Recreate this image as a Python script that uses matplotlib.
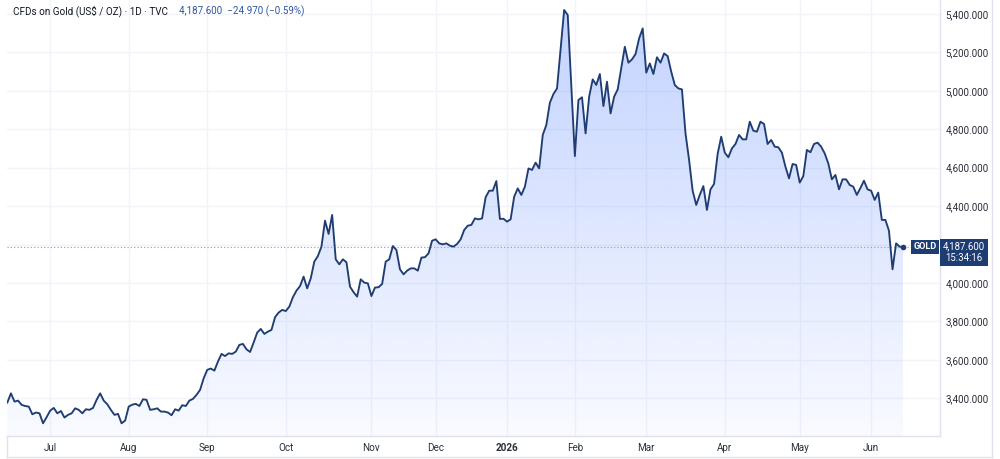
import matplotlib
matplotlib.use("Agg")
import numpy as np
from matplotlib import pyplot as plt
from matplotlib.lines import Line2D

# daily close, one value per trading day
price = [
    3378, 3426, 3383, 3388, 3366, 3360, 3357, 3317, 3326, 3322,
    3270, 3302, 3336, 3350, 3322, 3334, 3300, 3314, 3322, 3348,
    3340, 3322, 3343, 3340, 3350, 3392, 3426, 3388, 3369, 3340,
    3314, 3319, 3270, 3284, 3357, 3367, 3371, 3360, 3395, 3392,
    3340, 3343, 3348, 3331, 3331, 3326, 3312, 3343, 3336, 3364,
    3360, 3388, 3397, 3418, 3444, 3504, 3548, 3555, 3544, 3591,
    3631, 3620, 3634, 3631, 3643, 3678, 3683, 3655, 3641, 3690,
    3742, 3761, 3735, 3747, 3756, 3822, 3846, 3860, 3854, 3877,
    3926, 3960, 3984, 4033, 3972, 4024, 4111, 4140, 4189, 4324,
    4255, 4354, 4123, 4097, 4123, 4108, 3981, 3952, 3929, 4019,
    4002, 3998, 3932, 3976, 3978, 3995, 4111, 4123, 4192, 4172,
    4071, 4045, 4064, 4076, 4076, 4064, 4132, 4134, 4154, 4220,
    4227, 4206, 4201, 4206, 4194, 4189, 4203, 4227, 4276, 4298,
    4302, 4336, 4331, 4336, 4446, 4480, 4480, 4530, 4333, 4334,
    4319, 4331, 4449, 4492, 4458, 4501, 4596, 4588, 4626, 4596,
    4770, 4822, 4938, 4983, 5012, 5217, 5420, 5394, 5030, 4660,
    4952, 4966, 4778, 4969, 5059, 5030, 5087, 4920, 5047, 4882,
    4969, 5007, 5118, 5229, 5146, 5163, 5191, 5272, 5324, 5094,
    5142, 5087, 5174, 5146, 5194, 5180, 5099, 5030, 5012, 5007,
    4778, 4640, 4480, 4406, 4458, 4504, 4380, 4487, 4515, 4671,
    4761, 4678, 4654, 4700, 4723, 4770, 4747, 4747, 4839, 4792,
    4787, 4839, 4827, 4723, 4744, 4709, 4706, 4678, 4605, 4544,
    4619, 4614, 4522, 4556, 4692, 4680, 4723, 4730, 4709, 4674,
    4622, 4539, 4562, 4487, 4539, 4539, 4510, 4501, 4458, 4494,
    4532, 4487, 4480, 4432, 4470, 4328, 4328, 4272, 4071, 4206,
    4189, 4187.6,
]

# trading-day index where each month starts
month_pos = [12, 34, 56, 78, 102, 120, 140, 159, 179, 201, 222, 242]
month_labels = ["Jul", "Aug", "Sep", "Oct", "Nov", "Dec", "2026",
                "Feb", "Mar", "Apr", "May", "Jun"]
price_ticks = [3400, 3600, 3800, 4000, 4200, 4400, 4600, 4800, 5000, 5200, 5400]

symbol = "GOLD"
title = "CFDs on Gold (US$ / OZ) \u00b7 1D \u00b7 TVC"
last_price = 4187.600
change = -24.970
change_pct = -0.59
clock = "15:34:16"

LINE = "#1f3d72"
NAVY = "#1c3c72"
BORDER = "#e0e3eb"
GRID = "#f2f4fa"
TEXT = "#2a2e39"

plt.rcParams["font.family"] = ["Roboto", "DejaVu Sans"]

W, H = 1000, 459
fig = plt.figure(figsize=(W / 100, H / 100), dpi=100)
ax = fig.add_axes([7 / W, 23 / H, 933 / W, 436 / H])

days = np.arange(len(price))
values = np.array(price, dtype=float)
y_lo, y_hi = 3204, 5472

# area under the line with a vertical gradient
poly = ax.fill_between(days, values, y_lo, facecolor="none", edgecolor="none")
grad = np.zeros((256, 1, 4))
grad[:, 0, 0] = 41 / 255
grad[:, 0, 1] = 98 / 255
grad[:, 0, 2] = 1.0
grad[:, 0, 3] = np.linspace(0.28, 0.03, 256)
im = ax.imshow(grad, extent=[days[0], days[-1], y_lo, values.max()],
               aspect="auto", origin="upper", zorder=1, interpolation="bilinear")
im.set_clip_path(poly.get_paths()[0], transform=ax.transData)
ax.set_xlim(-0.1, 261.3)
ax.set_ylim(y_lo, y_hi)

ax.plot(days, values, color=LINE, lw=1.35, zorder=3, solid_joinstyle="round")
ax.plot(days[-1], values[-1], "o", ms=3.0, color=LINE, zorder=4)
ax.axhline(last_price, color="#8a9bc0", lw=0.8, ls=(0, (1, 2)), zorder=2)

# axes styling
ax.yaxis.tick_right()
ax.set_yticks(price_ticks)
ax.set_yticklabels(["" if t == 4200 else f"{t:,.3f}" for t in price_ticks])
ax.set_xticks(month_pos)
ax.set_xticklabels(month_labels)
ax.get_xticklabels()[6].set_fontweight("bold")
ax.tick_params(axis="y", length=0, pad=4, labelsize=7.1, labelcolor=TEXT)
ax.tick_params(axis="x", length=0, pad=5, labelsize=7.1, labelcolor=TEXT)
ax.grid(color=GRID, lw=1)
ax.set_axisbelow(True)
for side in ["top", "left"]:
    ax.spines[side].set_visible(False)
for side in ["right", "bottom"]:
    ax.spines[side].set_color(BORDER)
    ax.spines[side].set_linewidth(1)

# outer frame of the time and price scales
for xs, ys in [((7, 992), (2, 2)), ((992, 992), (2, 459)), ((7, 7), (2, 23))]:
    fig.add_artist(Line2D([x / W for x in xs], [y / H for y in ys],
                          transform=fig.transFigure, color=BORDER, lw=1))

# last price labels
ax.annotate(symbol, xy=(1, last_price), xycoords=("axes fraction", "data"),
            xytext=(-2.5, 0), textcoords="offset points", ha="right", va="center",
            fontsize=6.6, color="white", fontweight="bold",
            bbox=dict(boxstyle="square,pad=0.3", fc=NAVY, ec="none"), zorder=6)
ax.annotate(f"{last_price:,.3f}\n{clock}", xy=(1, last_price),
            xycoords=("axes fraction", "data"), xytext=(17.5, 3.8),
            textcoords="offset points", ha="center", va="top",
            fontsize=6.9, color="white", linespacing=1.2,
            bbox=dict(boxstyle="square,pad=0.3", fc=NAVY, ec="none"),
            zorder=6, annotation_clip=False)

# legend line at the top
head = fig.text(13 / W, 1 - 11 / H, title, fontsize=7.1, color="#131722", va="center")
quote = f"{last_price:,.3f}  {change:.3f} ({change_pct:.2f}%)".replace("-", "\u2212")
fig.add_artist(matplotlib.text.Annotation(
    quote, xy=(1, 0.5), xycoords=head, xytext=(8, 0), textcoords="offset points",
    fontsize=7.1, color="#2f57a0", va="center", ha="left"))

fig.savefig("out.png", dpi=100)
